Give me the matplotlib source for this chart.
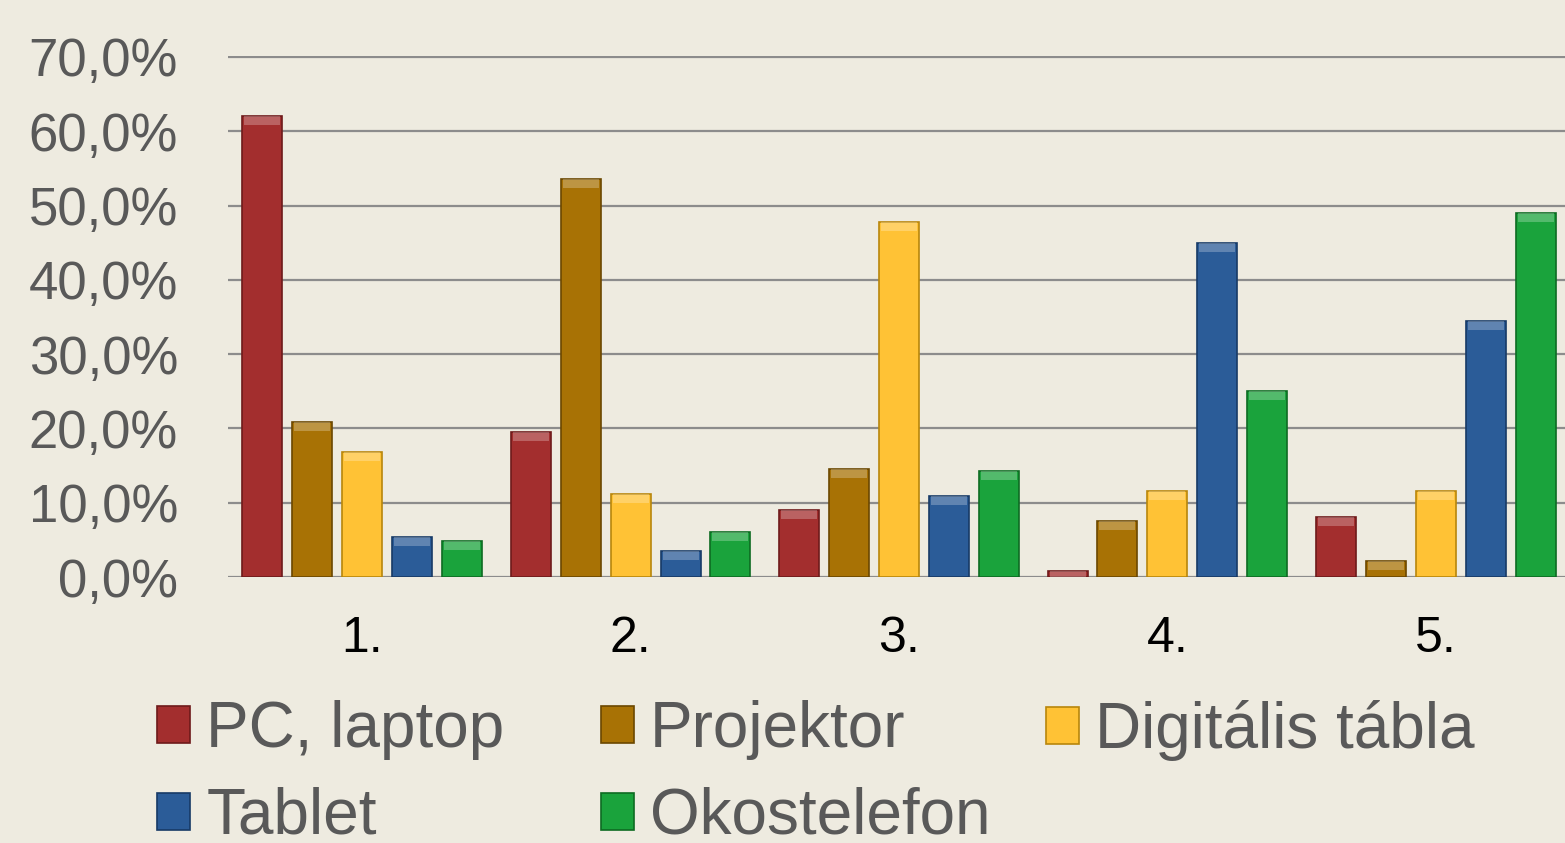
import matplotlib.pyplot as plt
import numpy as np
from matplotlib.patches import Patch

# Daten
kategorien = ["1.", "2.", "3.", "4.", "5."]
pc_laptop = [62.0, 19.5, 9.0, 0.8, 8.1]
projektor = [20.9, 53.6, 14.5, 7.5, 2.2]
digitalis_tabla = [16.8, 11.2, 47.8, 11.6, 11.6]
tablet = [5.4, 3.5, 10.9, 45.0, 34.5]
okostelefon = [4.8, 6.1, 14.3, 25.0, 49.0]
y_ticks = [0, 10, 20, 30, 40, 50, 60, 70]

sorozatok = [
    ("PC, laptop", pc_laptop, "#A32E2E", "#6E1A1A"),
    ("Projektor", projektor, "#A87205", "#6B4700"),
    ("Digitális tábla", digitalis_tabla, "#FFC235", "#B8860B"),
    ("Tablet", tablet, "#2B5C98", "#173A66"),
    ("Okostelefon", okostelefon, "#1AA33C", "#0D6B22"),
]

hintergrund = "#EEEBE0"
plt.rcParams["font.family"] = ["Liberation Sans", "DejaVu Sans"]

fig = plt.figure(figsize=(15.65, 8.43), dpi=100, facecolor=hintergrund)
# y=0 bei Pixel 577, 70% bei Pixel 57 -> 7.43 px pro Prozent
ax = fig.add_axes([228 / 1565, 1 - 577 / 843, 1342 / 1565, (520 + 1.5) / 843])
ax.set_facecolor(hintergrund)

x = np.arange(len(kategorien))
breite = 0.149
schritt = 0.186

handles = {}
for i, (name, werte, farbe, rand) in enumerate(sorozatok):
    pos = x + (i - 2) * schritt
    ax.bar(pos, werte, width=breite, color=farbe, edgecolor=rand, linewidth=1.2, zorder=3)
    # heller Streifen oben (Bevel-Effekt)
    ax.bar(pos, [min(v, 1.2) for v in werte], bottom=[v - min(v, 1.2) for v in werte],
           width=breite * 0.9, color="white", alpha=0.25, linewidth=0, zorder=4)
    handles[name] = Patch(facecolor=farbe, edgecolor=rand, linewidth=1.2)

ax.set_xlim(-0.5, 4.5)
ax.set_ylim(0, 70.2)
ax.set_yticks(y_ticks)
ax.set_yticklabels([f"{v:.1f}%".replace(".", ",") for v in y_ticks])
ax.set_xticks(x)
ax.set_xticklabels(kategorien)
ax.grid(axis="y", color="#8C8C8C", linewidth=1.6, zorder=1)
for s in ax.spines.values():
    s.set_visible(False)
ax.tick_params(axis="y", length=0, pad=36, labelsize=38, labelcolor="#595959")
ax.tick_params(axis="x", length=0, pad=28, labelsize=36, labelcolor="black")

# Legende: drei Spalten mit gleicher Breite wie in Excel
spalten = [["PC, laptop", "Tablet"], ["Projektor", "Okostelefon"], ["Digitális tábla"]]
spalten_x = [157, 601, 1046]
for namen, sx in zip(spalten, spalten_x):
    fig.legend([handles[n] for n in namen], namen, ncol=1,
               loc="upper left", bbox_to_anchor=(sx / 1565, 1 - 700 / 843),
               frameon=False, fontsize=46, labelcolor="#595959",
               handlelength=0.52, handleheight=0.52, handletextpad=0.25,
               labelspacing=0.42, borderaxespad=0, borderpad=0)

fig.savefig("out.png", dpi=100, facecolor=hintergrund)
